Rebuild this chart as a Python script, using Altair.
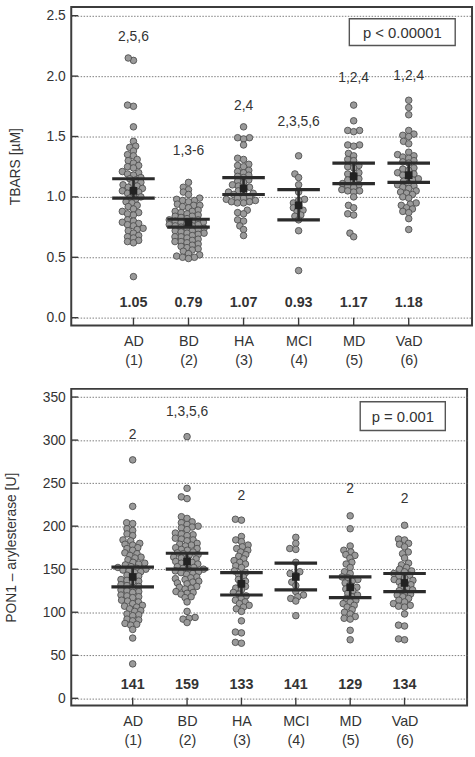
import altair as alt
import numpy as np
import pandas as pd

# ---- categories -------------------------------------------------------------
groups = ["AD", "BD", "HA", "MCI", "MD", "VaD"]
group_codes = ["(1)", "(2)", "(3)", "(4)", "(5)", "(6)"]

# ---- TBARS [µM], individual subjects ----------------------------------------
tbars_ad = [2.13, 2.15, 1.75, 1.76, 1.58, 1.46, 1.42, 1.41, 1.38, 1.35, 1.34, 1.31,
            1.30, 1.28, 1.26, 1.25, 1.24, 1.21, 1.20, 1.19, 1.18, 1.16, 1.15, 1.14,
            1.12, 1.11, 1.10, 1.09, 1.08, 1.07, 1.06, 1.05, 1.04, 1.03, 1.02, 1.00,
            0.99, 0.98, 0.96, 0.95, 0.93, 0.92, 0.90, 0.88, 0.87, 0.86, 0.85, 0.81,
            0.80, 0.79, 0.78, 0.77, 0.76, 0.74, 0.73, 0.72, 0.70, 0.68, 0.67, 0.66,
            0.64, 0.63, 0.62, 0.34]
tbars_bd = [1.12, 1.08, 1.06, 1.04, 1.02, 0.99, 0.98, 0.97, 0.97, 0.96, 0.94, 0.93,
            0.93, 0.92, 0.91, 0.89, 0.88, 0.88, 0.87, 0.86, 0.85, 0.84, 0.84, 0.83,
            0.82, 0.81, 0.81, 0.80, 0.80, 0.79, 0.79, 0.78, 0.77, 0.77, 0.76, 0.76,
            0.75, 0.74, 0.74, 0.73, 0.72, 0.72, 0.71, 0.70, 0.70, 0.69, 0.68, 0.67,
            0.67, 0.66, 0.65, 0.64, 0.63, 0.63, 0.62, 0.61, 0.60, 0.59, 0.58, 0.57,
            0.56, 0.55, 0.53, 0.52, 0.51, 0.50, 0.50, 0.49]
tbars_ha = [1.58, 1.49, 1.49, 1.48, 1.43, 1.32, 1.31, 1.27, 1.26, 1.25, 1.22, 1.21,
            1.20, 1.18, 1.17, 1.16, 1.14, 1.13, 1.12, 1.10, 1.09, 1.08, 1.07, 1.05,
            1.04, 1.03, 1.03, 1.02, 1.00, 0.99, 0.99, 0.98, 0.97, 0.96, 0.96, 0.95,
            0.95, 0.89, 0.87, 0.86, 0.81, 0.80, 0.76, 0.73, 0.68]
tbars_mci = [1.34, 1.19, 1.16, 1.10, 1.04, 0.98, 0.97, 0.95, 0.93, 0.91, 0.89, 0.88,
             0.85, 0.84, 0.81, 0.72, 0.39]
tbars_md = [1.76, 1.63, 1.55, 1.55, 1.54, 1.43, 1.43, 1.42, 1.36, 1.34, 1.31, 1.30,
            1.26, 1.25, 1.24, 1.20, 1.19, 1.18, 1.15, 1.14, 1.13, 1.11, 1.10, 1.09,
            1.08, 1.06, 1.05, 1.05, 1.04, 1.00, 0.93, 0.91, 0.86, 0.85, 0.70, 0.67]
tbars_vad = [1.80, 1.74, 1.68, 1.55, 1.52, 1.51, 1.50, 1.46, 1.44, 1.37, 1.35, 1.34,
             1.33, 1.32, 1.30, 1.29, 1.28, 1.24, 1.23, 1.22, 1.20, 1.19, 1.18, 1.17,
             1.15, 1.14, 1.13, 1.11, 1.10, 1.09, 1.08, 1.07, 1.05, 1.04, 1.03, 1.02,
             1.00, 0.99, 0.95, 0.94, 0.93, 0.91, 0.90, 0.88, 0.87, 0.82, 0.73]

tbars_mean = [1.05, 0.79, 1.07, 0.93, 1.17, 1.18]
tbars_ci_low = [0.99, 0.75, 1.02, 0.81, 1.11, 1.12]
tbars_ci_high = [1.15, 0.815, 1.16, 1.06, 1.28, 1.28]
tbars_sig = ["2,5,6", "1,3-6", "2,4", "2,3,5,6", "1,2,4", "1,2,4"]

# ---- PON1 arylesterase [U], individual subjects -----------------------------
pon_ad = [277, 223, 204, 203, 197, 195, 191, 189, 184, 183, 180, 179, 178, 175, 174,
          172, 169, 168, 166, 164, 163, 161, 158, 157, 156, 155, 153, 152, 151, 150,
          149, 148, 147, 146, 143, 142, 141, 138, 137, 136, 135, 132, 131, 130, 129,
          126, 125, 124, 123, 120, 119, 118, 117, 114, 113, 112, 110, 108, 107, 106,
          104, 102, 101, 98, 97, 96, 92, 91, 90, 87, 86, 85, 80, 70, 40]
pon_bd = [304, 244, 234, 232, 211, 209, 205, 204, 202, 200, 199, 198, 196, 192, 191,
          190, 189, 186, 185, 184, 183, 180, 179, 178, 177, 175, 174, 173, 172, 170,
          169, 168, 167, 166, 164, 163, 162, 161, 159, 158, 157, 156, 155, 153, 152,
          151, 150, 149, 148, 147, 146, 145, 144, 141, 140, 139, 138, 136, 135, 134,
          133, 130, 129, 128, 127, 124, 123, 122, 121, 118, 117, 112, 101, 94, 93,
          92, 88]
pon_ha = [208, 207, 188, 184, 182, 178, 176, 174, 172, 170, 167, 165, 162, 160, 158,
          156, 154, 152, 148, 146, 144, 141, 138, 136, 133, 130, 128, 126, 123, 121,
          119, 116, 114, 112, 110, 108, 106, 104, 101, 90, 77, 76, 65, 64]
pon_mci = [187, 180, 174, 173, 158, 147, 145, 143, 135, 131, 124, 120, 118, 116, 113, 96]
pon_md = [212, 197, 177, 172, 170, 167, 166, 163, 158, 156, 152, 147, 145, 141, 140,
          138, 136, 134, 131, 129, 127, 125, 122, 120, 118, 116, 114, 112, 110, 108,
          106, 103, 100, 98, 95, 93, 92, 79, 68]
pon_vad = [201, 185, 184, 180, 179, 176, 170, 168, 163, 157, 155, 152, 150, 148, 147,
           145, 143, 142, 140, 138, 137, 135, 134, 132, 130, 128, 126, 125, 123, 121,
           120, 118, 116, 114, 112, 110, 108, 107, 106, 98, 85, 84, 69, 68]

pon_mean = [141, 159, 133, 141, 129, 134]
pon_ci_low = [129.5, 150, 120, 126, 117, 124]
pon_ci_high = [152.5, 168.5, 146, 157, 141, 145]
pon_sig = ["2", "1,3,5,6", "2", "", "2", "2"]

# annotation anchors (in data units) for the post-hoc labels
tbars_sig_y = [2.32, 1.38, 1.75, 1.62, 1.98, 2.00]
pon_sig_y = [306, 333, 235, 0, 243, 232]

FONT = "Liberation Sans"
INK = "#333333"
X_DOMAIN = [-0.13, 7.15]
SWARM_DX = 6.2   # horizontal dot spacing in the swarm, px
SWARM_DY = 4.6   # vertical distance below which dots must sit side by side, px


def swarm_offsets(values, px_per_unit, dx_min, dy_min):
    """Beeswarm layout with an elliptical exclusion zone; returns x offsets in px."""
    vals = np.asarray(values, dtype=float)
    order = np.argsort(vals, kind="stable")
    stretch = dx_min / dy_min
    px_list, py_list = [], []
    out = np.zeros(len(vals))
    for k in order:
        y = vals[k] * px_per_unit * stretch
        cands = [0.0]
        for px, py in zip(px_list, py_list):
            dy = abs(y - py)
            if dy < dx_min:
                dx = np.sqrt(dx_min ** 2 - dy ** 2)
                cands += [px - dx, px + dx]
        cands.sort(key=lambda c: (round(abs(c), 6), c))
        chosen = 0.0
        for c in cands:
            if all((c - px) ** 2 + (y - py) ** 2 >= dx_min ** 2 - 1e-6
                   for px, py in zip(px_list, py_list)):
                chosen = c
                break
        px_list.append(chosen)
        py_list.append(y)
        out[k] = chosen
    return out


def panel(series, means, lo, hi, sig, sig_y, y_domain, y_ticks, y_fmt,
          y_title, p_text, width, height, box, mean_lbl_y):
    ppu_y = height / (y_domain[1] - y_domain[0])
    ppu_x = width / (X_DOMAIN[1] - X_DOMAIN[0])

    rows = []
    for i, vals in enumerate(series):
        offs = swarm_offsets(vals, ppu_y, SWARM_DX, SWARM_DY)
        for v, o in zip(vals, offs):
            rows.append({"group": groups[i], "x": i + 1 + o / ppu_x, "value": v})
    pts = pd.DataFrame(rows)

    half = 21.5 / ppu_x
    summ = pd.DataFrame({
        "pos": np.arange(1, 7),
        "left": np.arange(1, 7) - half,
        "right": np.arange(1, 7) + half,
        "mean": means, "lo": lo, "hi": hi,
        "mean_txt": [(f"{m:.2f}" if y_fmt == ".1f" else f"{m:.0f}") for m in means],
        "sig": sig, "sig_y": sig_y,
    })
    ticks_df = pd.DataFrame({"t": y_ticks})

    x_labels = ",".join(f"['{g}','{c}']" for g, c in zip(groups, group_codes))
    x_enc = alt.X(
        "x:Q",
        scale=alt.Scale(domain=X_DOMAIN, nice=False, zero=False),
        axis=alt.Axis(values=[1, 2, 3, 4, 5, 6], labelExpr=f"[{x_labels}][datum.value-1]",
                      title=None, grid=False, domain=False, ticks=False,
                      labelFontSize=14.5, labelColor=INK, labelPadding=9,
                      labelLineHeight=19, labelFont=FONT),
    )
    y_enc = alt.Y(
        "value:Q",
        scale=alt.Scale(domain=y_domain, nice=False, zero=False),
        axis=alt.Axis(values=y_ticks, format=y_fmt, title=y_title, grid=True,
                      gridDash=[1.5, 1.5], gridColor="#6f6f6f", gridWidth=0.9,
                      domain=False, ticks=False, labelFontSize=14, labelColor=INK,
                      labelPadding=6, labelFont=FONT, titleFont=FONT,
                      titleFontSize=14, titleFontWeight="normal", titleColor=INK,
                      titlePadding=24),
    )
    ys = alt.Scale(domain=y_domain, nice=False, zero=False)
    xs = alt.Scale(domain=X_DOMAIN, nice=False, zero=False)

    dots = alt.Chart(pts).mark_circle(
        size=44, color="#9a9a9a", opacity=1, stroke="#4f4f4f", strokeWidth=0.9
    ).encode(x=x_enc, y=y_enc)

    base = alt.Chart(summ)
    stem = base.mark_rule(color="#2b2b2b", strokeWidth=2.6).encode(
        x=alt.X("pos:Q", scale=xs), y=alt.Y("lo:Q", scale=ys), y2="hi:Q")
    cap_hi = base.mark_rule(color="#2b2b2b", strokeWidth=3.2).encode(
        x=alt.X("left:Q", scale=xs), x2="right:Q", y=alt.Y("hi:Q", scale=ys))
    cap_lo = base.mark_rule(color="#2b2b2b", strokeWidth=3.2).encode(
        x=alt.X("left:Q", scale=xs), x2="right:Q", y=alt.Y("lo:Q", scale=ys))
    mean_sq = base.mark_square(size=60, color="#222222", opacity=1).encode(
        x=alt.X("pos:Q", scale=xs), y=alt.Y("mean:Q", scale=ys))
    mean_lbl = base.mark_text(font=FONT, fontSize=14.5, fontWeight="bold",
                              color=INK, baseline="middle").encode(
        x=alt.X("pos:Q", scale=xs), y=alt.value(mean_lbl_y), text="mean_txt:N")
    sig_lbl = base.mark_text(font=FONT, fontSize=14, color=INK,
                             baseline="middle").encode(
        x=alt.X("pos:Q", scale=xs), y=alt.Y("sig_y:Q", scale=ys), text="sig:N")

    # inward tick marks on the frame
    yt = alt.Chart(ticks_df).mark_rule(color="#3c3c3c", strokeWidth=1.4).encode(
        y=alt.Y("t:Q", scale=ys), x=alt.value(0), x2=alt.value(7))
    xt = base.mark_rule(color="#3c3c3c", strokeWidth=1.4).encode(
        x=alt.X("pos:Q", scale=xs), y=alt.value(height - 8), y2=alt.value(height))

    bx0, by0, bx1, by1 = box
    one = pd.DataFrame({"label": [p_text]})
    pbox = alt.Chart(one).mark_rect(fill="white", stroke="#555555",
                                    strokeWidth=1.4).encode(
        x=alt.value(bx0), x2=alt.value(bx1), y=alt.value(by0), y2=alt.value(by1))
    ptxt = alt.Chart(one).mark_text(font=FONT, fontSize=15, color=INK,
                                    baseline="middle", align="center").encode(
        x=alt.value((bx0 + bx1) / 2), y=alt.value((by0 + by1) / 2 + 0.5),
        text="label:N")

    return alt.layer(dots, stem, cap_hi, cap_lo, mean_sq, mean_lbl, sig_lbl,
                     yt, xt, pbox, ptxt).properties(width=width, height=height)


top = panel([tbars_ad, tbars_bd, tbars_ha, tbars_mci, tbars_md, tbars_vad],
            tbars_mean, tbars_ci_low, tbars_ci_high, tbars_sig, tbars_sig_y,
            [-0.065, 2.573], [0, 0.5, 1.0, 1.5, 2.0, 2.5], ".1f",
            "TBARS [µM]", "p < 0.00001", 405, 322, (281, 12, 388, 39), 299)

bottom = panel([pon_ad, pon_bd, pon_ha, pon_mci, pon_md, pon_vad],
               pon_mean, pon_ci_low, pon_ci_high, pon_sig, pon_sig_y,
               [-8.4, 359.5], [0, 50, 100, 150, 200, 250, 300, 350], "d",
               "PON1 – arylesterase [U]", "p = 0.001", 400, 320, (292, 13, 378, 42), 299)

chart = alt.vconcat(top, bottom, spacing=20).configure_view(
    stroke="#3c3c3c", strokeWidth=2
).properties(
    padding={"left": 3, "top": 2, "right": 2, "bottom": 2}, background="white"
)

chart.save("out.html", embed_options={"renderer": "svg", "actions": False})
